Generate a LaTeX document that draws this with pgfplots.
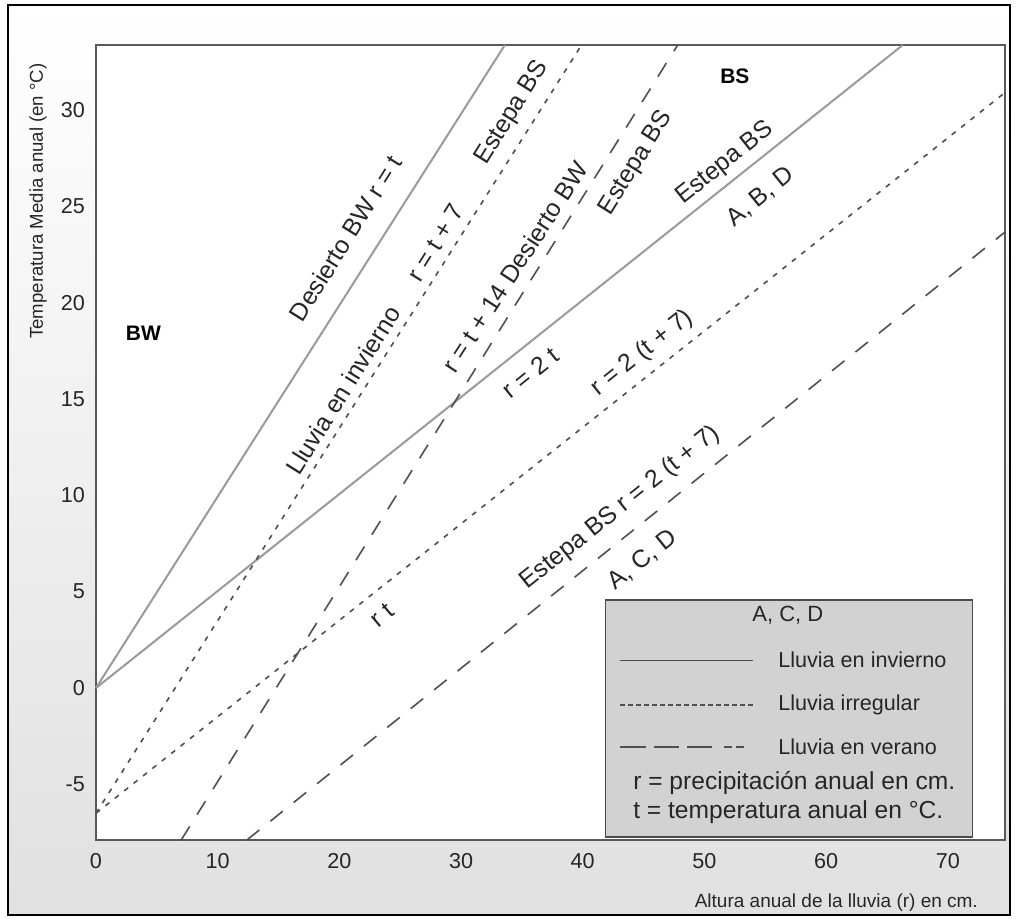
\documentclass[border=0pt]{standalone}
\usepackage{fontspec}
\setmainfont{Liberation Sans}
\usepackage{pgfplots}
\pgfplotsset{compat=1.18}
\definecolor{solidg}{HTML}{9A9A9A}
\definecolor{dashg}{HTML}{505050}
\definecolor{legbg}{HTML}{D2D2D2}
\begin{document}
\begin{tikzpicture}
\useasboundingbox (0,0) rectangle (508pt,459pt);
\fill[top color=white, bottom color=gray!24] (4pt,1.5pt) rectangle (505pt,456.5pt);
\begin{axis}[
 at={(48pt,39pt)}, anchor=south west,
 scale only axis, width=454.5pt, height=397.5pt,
 xmin=0, xmax=74.7, ymin=-7.89, ymax=33.37,
 xtick={0,10,...,70}, ytick={-5,0,...,30},
 major tick length=0pt,
 axis line style={draw=black!65, line width=0.6pt},
 axis background/.style={fill=white},
 tick label style={font=\fontsize{10.8}{12}\selectfont, text=black!85},
 /pgf/number format/assume math mode=true,
 xticklabel style={yshift=-3pt},
 yticklabel style={xshift=-2pt},
 clip=false,
]
% solid lines
\addplot[solidg, line width=1pt] coordinates {(0,0) (33.6,33.37)};
\addplot[solidg, line width=1pt] coordinates {(0,0) (66.3,33.37)};
% short dashed
\addplot[dashg, line width=0.8pt, dash pattern=on 2.5pt off 3.5pt] coordinates {(0,-6.5) (39.9,33.37)};
\addplot[dashg, line width=0.8pt, dash pattern=on 2.5pt off 3.5pt] coordinates {(0,-6.5) (74.7,30.9)};
% long dashed
\addplot[dashg, line width=0.8pt, dash pattern=on 8pt off 7pt] coordinates {(7.0,-7.89) (47.8,33.37)};
\addplot[dashg, line width=0.8pt, dash pattern=on 8pt off 7pt] coordinates {(12.4,-7.89) (74.7,23.66)};

% region labels
\node[font=\bfseries\fontsize{10.5}{12}\selectfont] at (axis cs:3.9,18.4) {BW};
\node[font=\bfseries\fontsize{10.5}{12}\selectfont] at (axis cs:52.5,31.76) {BS};

\tikzset{lab/.style={font=\fontsize{12.4}{14}\selectfont, text=black!85, inner sep=0pt}}
\node[lab, rotate=58] at (axis cs:20.5,23.35) {Desierto BW r = t};
\node[lab, rotate=58] at (axis cs:20.3,15.46) {Lluvia en invierno};
\node[lab, rotate=58] at (axis cs:27.9,23.1) {r = t + 7};
\node[lab, rotate=58] at (axis cs:34.2,29.84) {Estepa BS};
\node[lab, rotate=57] at (axis cs:34.4,21.85) {r = t + 14 Desierto BW};
\node[lab, rotate=58] at (axis cs:44.4,27.24) {Estepa BS};
\node[lab, rotate=38.5] at (axis cs:51.7,27.24) {Estepa BS};
\node[lab, rotate=39] at (axis cs:54.6,25.48) {A, B, D};
\node[lab, rotate=38.5] at (axis cs:35.7,16.35) {r = 2 t};
\node[lab, rotate=38.5] at (axis cs:44.9,17.38) {r = 2 (t + 7)};
\node[lab, rotate=38.5] at (axis cs:43.06,9.34) {Estepa BS r = 2 (t + 7)};
\node[lab, rotate=38.5] at (axis cs:44.9,6.64) {A, C, D};
\node[lab, rotate=40] at (axis cs:23.5,3.79) {r t};

% axis titles
\node[font=\fontsize{9.3}{11}\selectfont, rotate=90, text=black!85] at (axis cs:-4.77,25.27) {Temperatura Media anual (en °C)};
\node[font=\fontsize{9.5}{11}\selectfont, anchor=east, text=black!85, inner sep=0pt] at (axis cs:72.5,-11.16) {Altura anual de la lluvia (r) en cm.};

% legend
\fill[legbg, draw=black!70, line width=0.6pt] (axis cs:41.9,4.57) rectangle (axis cs:72.06,-7.73);
\node[font=\fontsize{11}{13}\selectfont, text=black!85] at (axis cs:56.86,3.79) {A, C, D};
\draw[black!70, line width=0.5pt] (axis cs:43.06,1.45) -- (axis cs:53.98,1.45);
\draw[dashg, line width=0.8pt, dash pattern=on 2.5pt off 1.5pt] (axis cs:43.06,-0.88) -- (axis cs:53.98,-0.88);
\draw[dashg, line width=0.8pt, dash pattern=on 13pt off 4pt on 12.5pt off 4pt on 12.5pt off 6pt on 4pt off 2pt on 4pt off 100pt] (axis cs:43.06,-3.06) -- (axis cs:54.4,-3.06);
\tikzset{leg/.style={font=\fontsize{10.8}{13}\selectfont, text=black!85, anchor=west, inner sep=0pt}}
\node[leg] at (axis cs:56.04,1.45) {Lluvia en invierno};
\node[leg] at (axis cs:56.04,-0.88) {Lluvia irregular};
\node[leg] at (axis cs:56.04,-3.06) {Lluvia en verano};
\node[leg, font=\fontsize{12.3}{14}\selectfont] at (axis cs:44.12,-4.93) {r = precipitación anual en cm.};
\node[leg, font=\fontsize{12.3}{14}\selectfont] at (axis cs:44.12,-6.43) {t = temperatura anual en °C.};
\end{axis}
\draw[line width=1.3pt] (4pt,1.5pt) rectangle (505pt,456.5pt);
\end{tikzpicture}
\end{document}
